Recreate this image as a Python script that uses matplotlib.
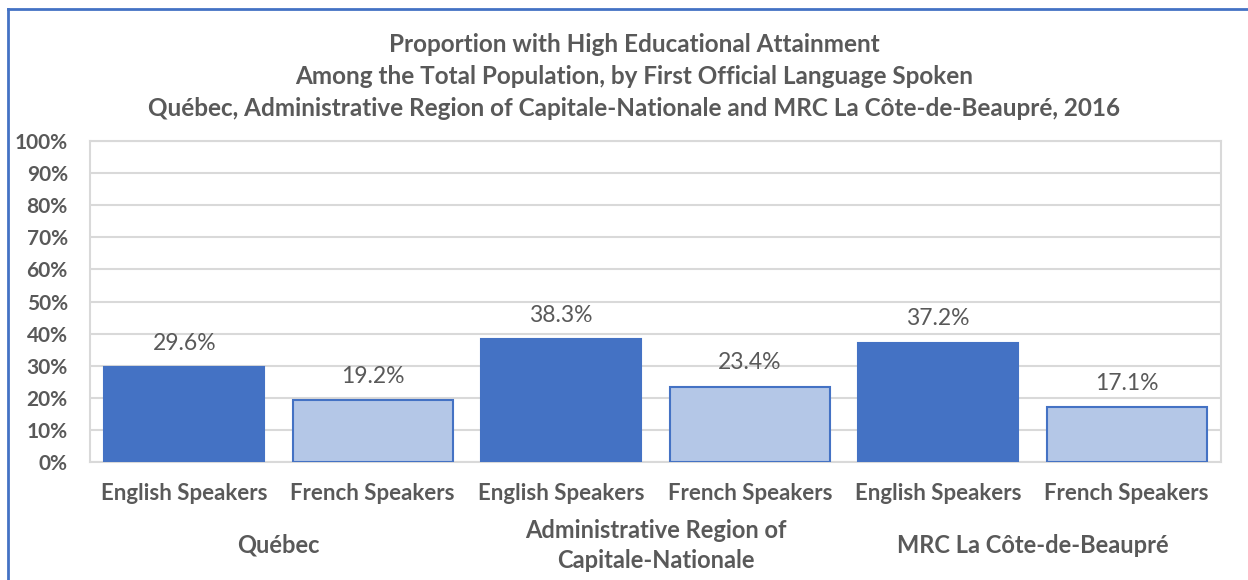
import matplotlib.pyplot as plt
from matplotlib.lines import Line2D
from matplotlib.ticker import PercentFormatter

# data
regions = ['Québec', 'Administrative Region of\nCapitale-Nationale', 'MRC La Côte-de-Beaupré']
speakers = ['English Speakers', 'French Speakers']
english_pct = [29.6, 38.3, 37.2]
french_pct = [19.2, 23.4, 17.1]

title_lines = ['Proportion with High Educational Attainment',
               'Among the Total Population, by First Official Language Spoken',
               'Québec, Administrative Region of Capitale-Nationale and MRC La Côte-de-Beaupré, 2016']

dark = '#4472C4'
light = '#B4C7E7'
grey_txt = '#595959'
grid_col = '#D9D9D9'

plt.rcParams['font.family'] = ['Lato', 'DejaVu Sans']

fig = plt.figure(figsize=(12.48, 5.8), dpi=100)
ax = fig.add_axes([90 / 1248, 1 - 462 / 580, (1221 - 90) / 1248, (462 - 141) / 580])

values = []
colors = []
labels = []
for e, f in zip(english_pct, french_pct):
    values += [e, f]
    colors += [dark, light]
    labels += speakers
xs = list(range(len(values)))

bars = ax.bar(xs, values, width=0.85, color=colors, edgecolor=dark, linewidth=1.5, zorder=3)
for b, v in zip(bars, values):
    ax.text(b.get_x() + b.get_width() / 2, v + 4.2, f'{v:.1f}%', ha='center', va='bottom',
            fontsize=16.5, color=grey_txt)

ax.set_xlim(-0.5, len(values) - 0.5)
ax.set_ylim(0, 100)
ax.set_yticks(range(0, 101, 10))
ax.yaxis.set_major_formatter(PercentFormatter(decimals=0))
ax.grid(axis='y', color=grid_col, linewidth=1.5, zorder=0)
for s in ax.spines.values():
    s.set_color(grid_col)
    s.set_linewidth(1.5)
ax.tick_params(axis='y', length=0, pad=16, labelsize=15, labelcolor=grey_txt)
for t in ax.get_yticklabels():
    t.set_fontweight('bold')
ax.set_xticks(xs)
ax.set_xticklabels(labels, fontsize=16, fontweight='bold', color=grey_txt)
ax.tick_params(axis='x', length=0, pad=15)

# group labels under each pair of bars
for i, r in enumerate(regions):
    ax.text(2 * i + 0.5, -0.26, r, transform=ax.get_xaxis_transform(), ha='center', va='center',
            fontsize=17, fontweight='bold', color=grey_txt, linespacing=1.4)

for i, line in enumerate(title_lines):
    fig.text(634 / 1248, 1 - (44 + i * 32) / 580, line, ha='center', va='center',
             fontsize=17.5, fontweight='bold', color=grey_txt)

# chart frame edges (left and top visible in the crop)
fig.add_artist(Line2D([8 / 1248, 8 / 1248], [0, 1 - 9 / 580], color=dark, linewidth=2))
fig.add_artist(Line2D([8 / 1248, 1], [1 - 9 / 580, 1 - 9 / 580], color=dark, linewidth=2))

fig.savefig('out.png', dpi=100)
